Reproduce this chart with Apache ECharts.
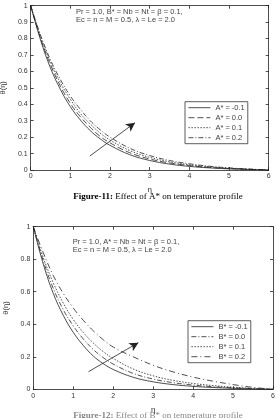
<!DOCTYPE html>
<html>
<head>
<meta charset="utf-8">
<script src="https://cdn.jsdelivr.net/npm/echarts@6/dist/echarts.min.js"></script>
<style>
  html, body { margin: 0; padding: 0; background: #fff; }
  #chart { width: 278px; height: 418px; }
</style>
</head>
<body>
<div id="chart"></div>
<script>
// eta positions along the x axis
const eta = [0, 0.25, 0.5, 0.75, 1, 1.25, 1.5, 1.75, 2, 2.5, 3, 3.5, 4, 4.5, 5, 5.5, 6]

// Figure-11: effect of A*
const namesA = ['A* = -0.1', 'A* = 0.0', 'A* = 0.1', 'A* = 0.2']
const thetaA1 = [1, 0.79, 0.62, 0.49, 0.385, 0.305, 0.24, 0.19, 0.15, 0.093, 0.058, 0.036, 0.022, 0.013, 0.007, 0.003, 0]
const thetaA2 = [1, 0.80, 0.64, 0.51, 0.405, 0.325, 0.26, 0.205, 0.165, 0.105, 0.067, 0.043, 0.027, 0.016, 0.009, 0.004, 0]
const thetaA3 = [1, 0.81, 0.655, 0.53, 0.43, 0.345, 0.28, 0.225, 0.182, 0.118, 0.077, 0.05, 0.032, 0.02, 0.011, 0.005, 0]
const thetaA4 = [1, 0.82, 0.67, 0.55, 0.45, 0.37, 0.30, 0.245, 0.2, 0.132, 0.088, 0.058, 0.038, 0.023, 0.013, 0.006, 0]
const arrowA = [[1.49, 0.085], [2.63, 0.288]]

// Figure-12: effect of B*
const namesB = ['B* = -0.1', 'B* = 0.0', 'B* = 0.1', 'B* = 0.2']
const thetaB1 = [1, 0.77, 0.59, 0.455, 0.35, 0.27, 0.205, 0.158, 0.122, 0.074, 0.046, 0.029, 0.018, 0.011, 0.006, 0.002, 0]
const thetaB2 = [1, 0.79, 0.62, 0.49, 0.39, 0.31, 0.245, 0.195, 0.155, 0.098, 0.063, 0.041, 0.026, 0.016, 0.009, 0.004, 0]
const thetaB3 = [1, 0.81, 0.655, 0.53, 0.43, 0.35, 0.285, 0.232, 0.19, 0.125, 0.083, 0.055, 0.036, 0.023, 0.013, 0.006, 0]
const thetaB4 = [1, 0.84, 0.70, 0.59, 0.50, 0.425, 0.36, 0.305, 0.26, 0.2, 0.148, 0.107, 0.075, 0.05, 0.029, 0.012, 0]
const arrowB = [[1.38, 0.108], [2.63, 0.287]]

const font = 'Liberation Sans, Arial, sans-serif'
const serif = 'Liberation Serif, Times New Roman, serif'
const ink = '#333'

const chart = echarts.init(document.getElementById('chart'), null, { renderer: 'canvas' })

const pair = (ys) => eta.map((x, i) => [x, ys[i]])

const xAx = (gridIndex, pos, labels, name) => ({
  type: 'value',
  gridIndex,
  position: pos,
  min: 0,
  max: 6,
  interval: 1,
  name: labels ? name : '',
  nameLocation: 'middle',
  nameGap: 16,
  nameTextStyle: { color: ink, fontSize: 8, fontFamily: font },
  axisLine: { show: true, onZero: false, lineStyle: { color: '#222', width: 0.8 } },
  axisTick: { show: true, inside: true, length: 3, lineStyle: { color: '#222', width: 0.8 } },
  axisLabel: { show: labels, color: ink, fontSize: 7, fontFamily: font, margin: 3 },
  splitLine: { show: false },
})

const yAx = (gridIndex, pos, labels, interval, gap) => ({
  type: 'value',
  gridIndex,
  position: pos,
  min: 0,
  max: 1,
  interval,
  name: labels ? 'θ(η)' : '',
  nameLocation: 'middle',
  nameGap: gap,
  nameRotate: 90,
  nameTextStyle: { color: ink, fontSize: 7.5, fontFamily: font },
  axisLine: { show: true, onZero: false, lineStyle: { color: '#222', width: 0.8 } },
  axisTick: { show: true, inside: true, length: 3, lineStyle: { color: '#222', width: 0.8 } },
  axisLabel: { show: labels, color: ink, fontSize: 7, fontFamily: font, margin: 3 },
  splitLine: { show: false },
})

const dashes = {
  solid: 'solid',
  dashed: [6, 3],
  dotted: [1.5, 1.5],
  dashdot: [5, 2, 1, 2],
  longdashdot: [6, 3, 1, 3],
}

const line = (name, ys, xi, yi, type, arrow) => {
  const s = {
    name,
    type: 'line',
    xAxisIndex: xi,
    yAxisIndex: yi,
    data: pair(ys),
    smooth: 0.4,
    symbol: 'none',
    lineStyle: { color: '#222', width: 0.8, type },
    itemStyle: { color: '#222' },
    silent: true,
  }
  if (arrow) {
    s.markLine = {
      silent: true,
      symbol: ['none', 'arrow'],
      symbolSize: [7, 9],
      label: { show: false },
      lineStyle: { color: '#222', width: 0.8, type: 'solid' },
      data: [[{ coord: arrow[0] }, { coord: arrow[1] }]],
    }
  }
  return s
}

const legendOf = (names, left, top) => ({
  data: names,
  orient: 'vertical',
  left,
  top,
  itemWidth: 22,
  itemHeight: 7,
  itemGap: 2,
  padding: [2, 3],
  borderColor: '#333',
  borderWidth: 0.8,
  backgroundColor: '#fff',
  selectedMode: false,
  itemStyle: { color: 'rgba(0,0,0,0)', borderWidth: 0 },
  lineStyle: { width: 0.8 },
  textStyle: { color: '#444', fontSize: 7.5, fontFamily: font },
})

const note = (x, y, lines) => ({
  type: 'text',
  left: x,
  top: y,
  style: {
    text: lines.join('\n'),
    fill: '#444',
    fontSize: 7.5,
    fontFamily: font,
    lineHeight: 8,
  },
})

const caption = (y, num, rest, color) => ({
  type: 'text',
  x: 158,
  y,
  style: {
    text: `{b|Figure-${num}:}{n| ${rest}}`,
    align: 'center',
    verticalAlign: 'middle',
    rich: {
      b: { fontWeight: 'bold', fill: color, fontSize: 9, fontFamily: serif },
      n: { fill: color, fontSize: 9, fontFamily: serif },
    },
  },
})

chart.setOption({
  animation: false,
  backgroundColor: '#fff',
  grid: [
    { left: 30.7, top: 5.7, width: 238, height: 164.3, show: false, containLabel: false, outerBoundsMode: 'none' },
    { left: 33.3, top: 226.7, width: 239.7, height: 162.6, show: false, containLabel: false, outerBoundsMode: 'none' },
  ],
  xAxis: [
    xAx(0, 'bottom', true, 'η'),
    xAx(0, 'top', false),
    xAx(1, 'bottom', true, 'η'),
    xAx(1, 'top', false),
  ],
  yAxis: [
    yAx(0, 'left', true, 0.1, 22),
    yAx(0, 'right', false, 0.1, 0),
    yAx(1, 'left', true, 0.2, 23),
    yAx(1, 'right', false, 0.2, 0),
  ],
  legend: [
    legendOf(namesA, 185, 101.7),
    legendOf(namesB, 188, 320.7),
  ],
  series: [
    line(namesA[0], thetaA1, 0, 0, dashes.solid, arrowA),
    line(namesA[1], thetaA2, 0, 0, dashes.dashed),
    line(namesA[2], thetaA3, 0, 0, dashes.dotted),
    line(namesA[3], thetaA4, 0, 0, dashes.dashdot),
    line(namesB[0], thetaB1, 2, 2, dashes.solid, arrowB),
    line(namesB[1], thetaB2, 2, 2, dashes.dashdot),
    line(namesB[2], thetaB3, 2, 2, dashes.dotted),
    line(namesB[3], thetaB4, 2, 2, dashes.longdashdot),
  ],
  graphic: [
    note(76, 8, ['Pr = 1.0, B* = Nb = Nt = β = 0.1,', 'Ec = n = M = 0.5, λ = Le = 2.0']),
    note(72.7, 238, ['Pr = 1.0, A* = Nb = Nt = β = 0.1,', 'Ec = n = M = 0.5, λ = Le = 2.0']),
    caption(197, 11, 'Effect of A* on temperature profile', '#000'),
    caption(416, 12, 'Effect of B* on temperature profile', '#888'),
  ],
})

window.addEventListener('resize', () => {
  chart.resize()
})
</script>
</body>
</html>
